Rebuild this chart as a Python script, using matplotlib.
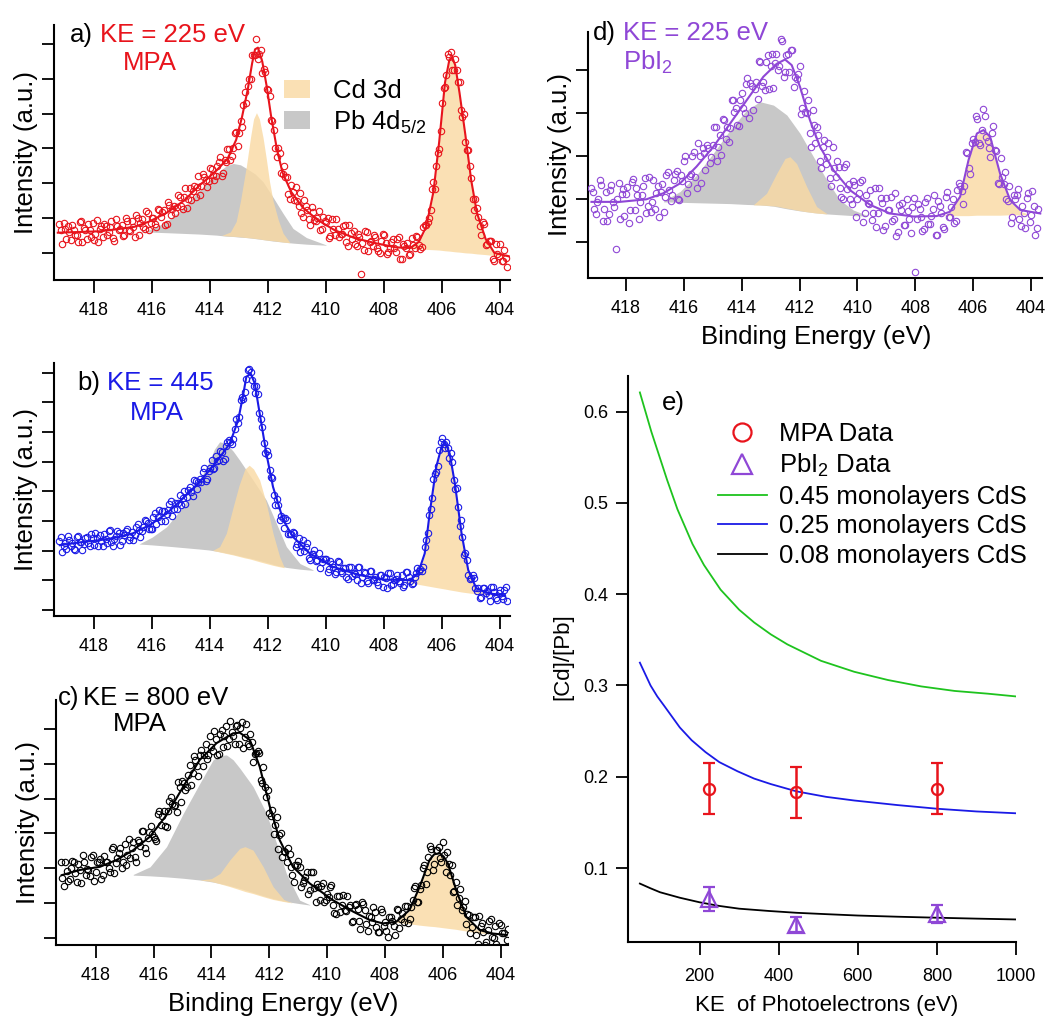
import numpy as np
import matplotlib
matplotlib.use('Agg')
import matplotlib.pyplot as plt
from matplotlib.patches import Patch
from matplotlib.lines import Line2D

plt.rcParams['font.family'] = ['Liberation Sans', 'DejaVu Sans']
plt.rcParams['mathtext.fontset'] = 'custom'
plt.rcParams['mathtext.rm'] = 'Liberation Sans'
plt.rcParams['mathtext.it'] = 'Liberation Sans:italic'

red = '#e8141c'
blue = '#1a1ae6'
purple = '#8f47d6'
green = '#1ec31e'
orange = '#f9daa4'
gray = '#c8c8c8'

# ---- raw XPS scans (intensity in units of the y tick spacing) ----
# two interleaved sweeps, 0.1 eV steps each, offset by 0.05 eV
be_scan = np.arange(419.2, 403.75, -0.1)
be_scan2 = be_scan - 0.05

scan_a = [0.83, 0.26, 0.68, 0.77, 0.38, 0.66, 0.50, 0.88, 0.32, 0.65,
          0.82, 0.47, 0.37, 0.94, 0.69, 0.45, 0.78, 0.61, 0.91, 0.35,
          0.78, 0.69, 0.49, 0.99, 0.65, 0.92, 0.47, 0.99, 0.85, 0.74,
          1.19, 0.65, 1.01, 0.84, 1.27, 1.02, 1.24, 0.83, 1.38, 1.26,
          1.14, 1.66, 1.34, 1.60, 1.30, 1.87, 1.78, 1.61, 2.22, 1.91,
          2.19, 1.88, 2.45, 2.23, 2.21, 2.61, 2.20, 2.67, 2.98, 2.67,
          3.00, 3.46, 3.45, 3.62, 4.62, 4.80, 4.99, 5.69, 6.15, 5.73,
          5.18, 5.19, 4.68, 3.81, 3.52, 2.75, 2.88, 2.26, 2.18, 1.69,
          1.96, 1.52, 1.50, 1.72, 1.02, 1.36, 0.96, 1.32, 0.94, 0.99,
          0.65, 1.03, 0.90, 0.43, 0.98, 0.51, 0.69, 0.54, 0.76, 0.31,
          0.81, 0.39, 0.25, 0.55, -0.62, 0.08, 0.59, 0.32, 0.20, 0.46,
          0.05, 0.34, 0.51, -0.04, 0.15, 0.39, 0.02, 0.47, -0.17, 0.21,
          0.28, -0.04, 0.22, 0.49, 0.22, 0.17, 0.80, 0.90, 1.23, 2.03,
          2.50, 2.99, 4.31, 4.76, 5.72, 5.78, 5.27, 5.27, 4.92, 3.90,
          3.19, 2.95, 2.14, 1.23, 1.29, 0.78, 0.88, 0.22, 0.35, 0.33,
          -0.22, -0.03, 0.25, -0.23, -0.14]
scan2_a = [0.65, 0.86, 0.41, 0.59, 0.80, 0.50, 0.32, 0.92, 0.71, 0.40,
           0.65, 0.87, 0.55, 0.30, 0.77, 0.82, 0.51, 0.73, 0.42, 0.96,
           0.65, 0.80, 0.50, 0.93, 0.63, 0.75, 1.09, 0.52, 0.97, 0.68,
           1.14, 0.85, 1.00, 0.75, 1.22, 1.18, 0.81, 1.46, 1.09, 1.36,
           1.31, 1.62, 1.26, 1.86, 1.55, 1.52, 1.92, 1.90, 1.66, 2.27,
           2.09, 2.07, 2.42, 2.10, 2.49, 2.76, 2.31, 2.61, 2.99, 2.79,
           3.45, 3.08, 3.80, 4.24, 4.32, 4.99, 5.68, 5.68, 5.57, 5.83,
           5.28, 4.71, 4.51, 3.80, 3.02, 3.01, 2.31, 2.51, 2.17, 1.55,
           1.76, 1.88, 1.35, 1.14, 1.51, 1.22, 0.79, 1.18, 0.91, 1.21,
           0.70, 0.93, 0.99, 0.48, 0.68, 0.96, 0.46, 0.53, 0.79, 0.19,
           0.58, 0.63, 0.21, 0.47, 0.27, 0.63, 0.05, 0.35, 0.50, 0.13,
           0.00, 0.55, 0.29, 0.02, 0.32, 0.13, 0.40, -0.17, 0.25, 0.14,
           -0.07, 0.44, 0.14, 0.46, 0.11, 0.75, 0.80, 1.00, 1.85, 1.83,
           2.87, 3.51, 4.75, 5.11, 5.64, 5.26, 5.56, 4.90, 4.12, 3.98,
           2.95, 2.50, 1.55, 1.56, 1.04, 0.52, 0.82, 0.26, 0.33, -0.18,
           0.25, -0.09, -0.22, 0.09, -0.42]

scan_b = [2.33, 1.95, 2.26, 2.49, 2.14, 2.06, 2.47, 2.30, 2.02, 2.42,
          2.25, 2.56, 2.18, 2.43, 2.53, 2.16, 2.38, 2.67, 2.29, 2.40,
          2.66, 2.20, 2.58, 2.67, 2.36, 2.63, 2.51, 2.89, 2.46, 2.78,
          2.98, 2.73, 2.71, 3.26, 3.12, 2.98, 3.32, 3.23, 3.56, 3.17,
          3.62, 3.62, 3.52, 4.02, 3.82, 4.13, 3.84, 4.36, 4.31, 4.31,
          4.78, 4.42, 4.80, 4.74, 5.18, 5.07, 5.34, 5.08, 5.65, 5.65,
          5.75, 6.44, 6.51, 7.19, 7.36, 8.08, 8.01, 7.57, 7.57, 6.64,
          6.17, 5.29, 5.21, 4.47, 3.88, 3.75, 3.03, 3.11, 3.09, 2.55,
          2.55, 2.60, 2.21, 1.96, 2.37, 2.11, 1.76, 1.89, 2.01, 1.67,
          1.40, 1.73, 1.71, 1.39, 1.53, 1.22, 1.63, 1.32, 1.41, 1.11,
          1.44, 1.14, 1.20, 1.45, 0.92, 1.26, 0.97, 1.31, 1.02, 1.09,
          0.84, 1.18, 1.11, 0.74, 1.24, 0.88, 1.05, 0.96, 1.17, 0.82,
          1.28, 0.96, 0.90, 1.24, 1.31, 1.31, 2.11, 2.60, 3.41, 4.40,
          4.65, 5.39, 5.79, 5.46, 5.47, 5.28, 4.38, 4.12, 2.83, 2.46,
          1.92, 1.19, 1.08, 1.06, 0.63, 0.41, 0.75, 0.57, 0.49, 0.78,
          0.61, 0.33, 0.68, 0.37, 0.76]
scan2_b = [2.46, 2.14, 2.06, 2.35, 2.27, 2.01, 2.48, 2.28, 2.21, 2.46,
           2.14, 2.42, 2.58, 2.14, 2.33, 2.56, 2.27, 2.68, 2.15, 2.50,
           2.58, 2.33, 2.54, 2.74, 2.47, 2.35, 2.78, 2.68, 2.67, 3.02,
           2.92, 2.71, 3.14, 2.91, 3.37, 3.32, 2.99, 3.37, 3.67, 3.40,
           3.40, 3.87, 3.77, 3.56, 4.05, 3.97, 4.37, 4.08, 4.43, 4.64,
           4.36, 4.69, 5.07, 4.80, 5.01, 5.37, 5.02, 5.52, 5.73, 5.60,
           6.11, 6.31, 7.09, 7.11, 7.78, 8.12, 7.75, 7.32, 7.27, 6.44,
           5.63, 5.37, 4.72, 4.46, 3.53, 3.54, 3.18, 2.77, 3.02, 2.57,
           2.64, 2.12, 2.43, 2.18, 1.97, 2.25, 1.69, 1.89, 1.65, 1.91,
           1.61, 1.71, 1.27, 1.64, 1.45, 1.26, 1.61, 1.25, 1.40, 1.04,
           1.43, 1.25, 1.01, 1.44, 1.09, 1.25, 0.90, 1.30, 1.04, 0.94,
           1.19, 0.76, 1.08, 1.25, 0.85, 1.00, 1.17, 0.90, 0.76, 1.28,
           1.11, 0.86, 1.12, 1.41, 1.36, 1.46, 2.37, 3.20, 3.76, 4.60,
           4.86, 5.67, 5.58, 5.68, 5.12, 4.98, 4.09, 3.48, 3.02, 1.86,
           1.69, 1.05, 1.16, 0.73, 0.72, 0.42, 0.74, 0.65, 0.28, 0.77,
           0.40, 0.57, 0.47, 0.67, 0.31]

scan_c = [2.18, 1.49, 1.93, 1.68, 2.21, 1.87, 2.12, 1.56, 2.19, 1.99,
          1.78, 2.37, 1.88, 2.17, 1.69, 2.35, 2.17, 1.89, 2.60, 2.14,
          2.45, 2.00, 2.69, 2.37, 2.29, 2.74, 2.18, 2.74, 3.08, 2.57,
          2.86, 3.20, 2.90, 2.79, 3.66, 3.51, 3.21, 3.65, 4.06, 3.79,
          3.62, 4.34, 4.52, 4.26, 4.67, 4.40, 5.22, 4.95, 5.26, 4.95,
          5.58, 5.26, 5.48, 5.95, 5.25, 5.85, 5.50, 6.09, 5.73, 5.91,
          5.57, 6.12, 6.04, 5.46, 6.16, 5.53, 5.64, 5.30, 5.37, 4.55,
          4.90, 4.06, 3.58, 3.68, 3.25, 2.56, 3.02, 2.50, 2.19, 2.40,
          1.79, 2.10, 2.22, 1.45, 1.65, 1.89, 1.38, 1.90, 1.04, 1.47,
          1.50, 1.04, 1.25, 1.46, 0.94, 0.67, 1.20, 0.93, 0.80, 1.21,
          0.94, 0.48, 0.98, 0.49, 1.03, 0.81, 0.19, 0.60, 0.88, 0.31,
          0.16, 0.74, 0.46, 0.01, 0.60, 0.35, 0.82, 0.28, 0.70, 0.90,
          0.41, 0.87, 1.43, 1.04, 1.40, 2.02, 1.55, 2.32, 2.54, 2.13,
          2.52, 2.29, 2.74, 1.89, 2.12, 2.09, 1.35, 0.93, 1.40, 0.87,
          0.38, 0.64, 0.30, 0.60, -0.17, 0.34, 0.17, -0.12, 0.49, 0.03,
          0.33, -0.26, 0.36, 0.13, -0.06]
scan2_c = [1.71, 2.19, 1.63, 2.02, 2.18, 1.61, 1.95, 2.37, 1.80, 1.95,
           2.33, 1.62, 2.17, 2.26, 1.80, 2.19, 2.00, 2.54, 1.86, 2.30,
           2.57, 2.17, 2.08, 2.85, 2.59, 2.33, 2.80, 2.64, 3.08, 2.43,
           3.04, 2.99, 2.83, 3.57, 3.23, 3.65, 3.18, 3.94, 3.86, 3.81,
           4.49, 3.91, 4.46, 4.33, 4.97, 4.74, 5.11, 4.66, 5.39, 5.27,
           5.14, 5.80, 5.38, 5.72, 5.28, 5.97, 5.80, 5.53, 6.24, 5.79,
           6.08, 5.58, 6.20, 5.78, 5.58, 5.85, 5.05, 5.32, 5.32, 4.44,
           4.33, 4.25, 3.51, 2.99, 3.46, 2.95, 2.33, 2.47, 2.58, 2.03,
           1.61, 2.09, 2.04, 1.56, 1.75, 1.27, 1.89, 1.42, 1.55, 1.08,
           1.56, 1.09, 1.17, 1.51, 0.70, 1.19, 0.74, 1.23, 0.78, 0.88,
           0.46, 0.95, 0.83, 0.25, 0.97, 0.39, 0.62, 0.45, 0.74, 0.17,
           0.83, 0.33, 0.19, 0.60, 0.48, 0.09, 0.80, 0.53, 0.46, 0.90,
           0.53, 1.09, 1.49, 1.02, 1.53, 2.10, 1.89, 2.65, 1.96, 2.51,
           2.61, 2.19, 2.37, 2.48, 1.81, 1.32, 1.61, 1.13, 0.80, 1.05,
           0.67, 0.14, 0.59, 0.08, 0.62, 0.41, -0.20, 0.23, 0.53, -0.02,
           -0.17, 0.42, 0.14, -0.32, 0.26]

scan_d = [1.27, 0.77, 0.94, 1.44, 0.50, 1.16, 0.66, 1.33, 0.83, 1.00,
          0.55, 1.23, 1.12, 0.46, 1.40, 0.75, 1.09, 0.93, 1.32, 0.67,
          1.52, 0.93, 0.78, 1.31, 1.17, 0.70, 1.57, 1.22, 1.09, 1.58,
          1.01, 1.56, 1.90, 1.14, 1.54, 2.00, 1.52, 2.30, 1.38, 2.07,
          2.26, 1.84, 2.26, 2.68, 2.21, 2.04, 2.85, 2.67, 2.65, 3.30,
          3.12, 2.71, 3.47, 3.01, 3.83, 3.70, 3.08, 3.72, 4.21, 3.63,
          3.55, 4.35, 4.09, 3.59, 4.37, 4.09, 4.67, 3.97, 4.39, 4.48,
          3.61, 3.80, 4.10, 3.13, 3.04, 3.31, 2.22, 2.72, 2.68, 1.90,
          2.21, 1.81, 2.31, 1.32, 1.72, 1.90, 1.26, 1.01, 1.82, 1.36,
          0.90, 1.34, 1.00, 1.41, 0.48, 1.11, 0.90, 0.53, 1.26, 0.67,
          1.03, 0.28, 1.03, 0.74, 0.49, 1.15, 0.25, 0.74, 0.40, 1.00,
          0.54, 0.82, -0.70, 0.88, 0.60, 0.32, 1.04, 0.43, 0.78, 0.17,
          0.95, 0.69, 0.32, 1.17, 0.60, 1.00, 0.49, 1.39, 1.19, 1.30,
          2.08, 1.58, 2.41, 2.94, 2.30, 2.61, 2.93, 2.36, 1.98, 2.70,
          2.12, 1.35, 1.51, 1.64, 0.97, 0.46, 1.09, 1.09, 0.55, 0.85,
          0.33, 1.14, 0.63, 0.85, 0.34]
scan2_d = [1.16, 0.66, 1.00, 1.33, 0.77, 0.50, 1.22, 0.94, -0.15, 1.38,
           1.12, 0.62, 1.29, 0.74, 1.47, 1.26, 0.55, 1.10, 1.50, 0.84,
           0.70, 1.44, 1.14, 0.60, 1.35, 1.05, 1.64, 0.96, 1.45, 1.65,
           0.98, 1.43, 2.00, 1.35, 1.58, 2.10, 1.27, 2.01, 2.20, 1.67,
           2.19, 1.99, 2.69, 1.90, 2.49, 2.86, 2.40, 2.33, 3.31, 3.02,
           2.72, 3.31, 3.13, 3.67, 2.88, 3.64, 3.57, 3.33, 4.20, 3.73,
           4.20, 3.56, 4.39, 4.18, 4.01, 4.72, 3.85, 4.35, 3.97, 4.47,
           3.84, 3.92, 2.98, 3.51, 3.01, 2.54, 3.08, 2.31, 2.49, 1.73,
           2.37, 1.99, 1.49, 2.21, 1.51, 1.75, 1.05, 1.75, 1.23, 1.00,
           1.43, 0.59, 1.15, 1.44, 0.68, 0.92, 1.21, 0.67, 0.36, 1.27,
           0.91, 0.38, 0.75, 1.06, 0.55, 0.15, 0.86, 0.91, 0.40, 0.72,
           0.21, 1.04, 0.54, 0.77, 0.27, 0.93, 0.43, 0.61, 1.11, 0.18,
           0.85, 0.36, 1.05, 0.58, 0.81, 0.44, 1.22, 1.30, 0.89, 2.10,
           1.72, 2.30, 2.34, 2.87, 2.27, 3.11, 2.46, 2.20, 2.53, 2.14,
           1.38, 1.96, 1.35, 1.00, 1.30, 0.59, 1.01, 1.23, 0.37, 0.67,
           1.04, 0.48, 1.19, 0.18, 0.78]

# ---- fitted envelopes ----
fit_a_be = [419.25, 418.5, 417.8, 417.2, 416.6, 416.1, 415.5, 414.9, 414.35, 413.8,
            413.4, 413.1, 412.9, 412.7, 412.55, 412.45, 412.35, 412.2, 412.05, 411.9,
            411.7, 411.5, 411.2, 410.8, 410.3, 409.7, 409.0, 408.3, 407.6, 407.1,
            406.8, 406.55, 406.3, 406.1, 405.9, 405.75, 405.65, 405.55, 405.4, 405.2,
            405.0, 404.8, 404.5, 404.2, 403.7]
fit_a = [0.58, 0.6, 0.62, 0.68, 0.75, 0.9, 1.15, 1.5, 1.95, 2.35,
         2.7, 3.25, 3.9, 4.7, 5.45, 5.85, 5.9, 5.5, 4.8, 3.95,
         3.0, 2.3, 1.75, 1.3, 0.95, 0.65, 0.42, 0.28, 0.16, 0.14,
         0.32, 0.75, 1.75, 3.2, 4.9, 5.55, 5.62, 5.4, 4.6, 3.4,
         2.1, 1.15, 0.4, 0.0, -0.1]

fit_b_be = [419.18, 418.38, 417.8, 417.23, 416.66, 416.08, 415.5, 414.93, 414.36, 413.78,
            413.32, 413.03, 412.85, 412.75, 412.6, 412.46, 412.29, 412.06, 411.83, 411.48,
            411.14, 410.56, 409.76, 408.84, 408.03, 407.1, 406.83, 406.6, 406.43, 406.2,
            406.02, 405.9, 405.74, 405.56, 405.33, 405.1, 404.82, 404.36, 403.84]
fit_b = [2.18, 2.29, 2.35, 2.44, 2.58, 2.86, 3.25, 3.76, 4.32, 4.99,
         5.61, 6.4, 7.3, 7.86, 7.98, 7.64, 6.63, 5.28, 4.15, 3.03,
         2.46, 1.9, 1.45, 1.17, 1.02, 1.0, 1.23, 1.9, 3.25, 4.83,
         5.5, 5.67, 5.28, 4.26, 2.58, 1.34, 0.72, 0.55, 0.49]

fit_c_be = [419.17, 418.54, 417.85, 417.27, 416.7, 416.12, 415.55, 414.97, 414.4, 413.82,
            413.25, 413.02, 412.67, 412.33, 411.98, 411.64, 411.18, 410.6, 409.8, 409.1,
            408.53, 408.07, 407.61, 407.15, 406.8, 406.46, 406.3, 406.11, 405.97, 405.83,
            405.54, 405.19, 404.73, 404.27, 403.81]
fit_c = [1.8, 1.95, 2.04, 2.24, 2.52, 2.91, 3.53, 4.35, 5.12, 5.6,
         5.88, 5.9, 5.69, 4.92, 3.77, 2.81, 2.04, 1.56, 1.08, 0.75,
         0.51, 0.41, 0.46, 0.8, 1.47, 2.24, 2.4, 2.43, 2.33, 2.14,
         1.37, 0.6, 0.22, 0.12, 0.08]

fit_d_be = [419.19, 418.21, 417.29, 416.71, 416.13, 415.56, 414.98, 414.4, 413.83, 413.25,
            412.79, 412.5, 412.27, 411.98, 411.64, 411.29, 410.83, 410.25, 409.56, 408.87,
            408.06, 407.26, 406.8, 406.45, 406.16, 405.87, 405.64, 405.41, 405.07, 404.72,
            404.37, 403.68]
fit_d = [0.94, 0.94, 1.0, 1.14, 1.37, 1.76, 2.22, 2.76, 3.3, 3.85,
         4.15, 4.25, 4.12, 3.61, 2.84, 2.22, 1.68, 1.21, 0.87, 0.67,
         0.6, 0.61, 0.71, 1.06, 1.91, 2.53, 2.61, 2.45, 1.6, 0.98,
         0.75, 0.67]

# ---- fitted components: Pb 4d5/2 (gray) and the two Cd 3d peaks (orange) ----
pb_a_be = [416.6, 416.2, 415.85, 415.5, 414.93, 414.36, 413.78, 413.44, 413.2, 412.95,
           412.75, 412.45, 412.17, 411.83, 411.48, 411.14, 410.68, 410.0]
pb_a_top = [0.6, 0.63, 0.75, 0.9, 1.28, 1.8, 2.28, 2.5, 2.57, 2.53,
            2.43, 2.27, 2.04, 1.6, 1.13, 0.7, 0.44, 0.23]
pb_a_bot = [0.6, 0.6, 0.59, 0.58, 0.56, 0.54, 0.51, 0.48, 0.47, 0.45,
            0.44, 0.41, 0.38, 0.34, 0.31, 0.28, 0.25, 0.22]
cd1_a_be = [413.6, 413.3, 413.1, 412.95, 412.75, 412.6, 412.5, 412.4, 412.3, 412.17,
            412.06, 411.95, 411.83, 411.65, 411.48, 411.25]
cd1_a_top = [0.5, 0.6, 0.9, 1.5, 2.48, 3.35, 3.85, 4.03, 3.85, 3.3,
             2.7, 2.05, 1.5, 0.95, 0.56, 0.3]
cd1_a_bot = [0.5, 0.48, 0.47, 0.46, 0.44, 0.43, 0.42, 0.41, 0.4, 0.38,
             0.37, 0.36, 0.35, 0.33, 0.31, 0.29]
cd2_a_be = [407.6, 407.1, 406.8, 406.55, 406.3, 406.1, 405.9, 405.75, 405.65, 405.55,
            405.4, 405.2, 405.0, 404.8, 404.5, 404.2, 403.7]
cd2_a_top = [0.16, 0.17, 0.3, 0.7, 1.7, 3.15, 4.85, 5.5, 5.58, 5.35,
             4.55, 3.35, 2.05, 1.1, 0.4, 0.05, -0.08]
cd2_a_bot = [0.14, 0.12, 0.11, 0.1, 0.09, 0.08, 0.06, 0.05, 0.04, 0.03,
             0.02, 0.0, -0.01, -0.03, -0.05, -0.08, -0.11]

pb_b_be = [416.45, 416.0, 415.5, 414.93, 414.36, 414.05, 413.85, 413.67, 413.45, 413.2,
           412.98, 412.52, 412.06, 411.71, 411.37, 410.9, 410.45]
pb_b_top = [2.22, 2.45, 2.8, 3.48, 4.38, 4.95, 5.42, 5.67, 5.62, 5.35,
            5.05, 4.38, 3.7, 2.91, 2.13, 1.56, 1.35]
pb_b_bot = [2.22, 2.19, 2.15, 2.1, 2.05, 2.02, 1.99, 1.96, 1.92, 1.87,
            1.82, 1.72, 1.6, 1.5, 1.43, 1.37, 1.33]
cd1_b_be = [413.9, 413.67, 413.44, 413.2, 413.0, 412.8, 412.65, 412.5, 412.29, 412.06,
            411.83, 411.6, 411.45]
cd1_b_top = [2.01, 2.13, 2.58, 3.48, 4.2, 4.75, 4.88, 4.75, 4.38, 3.59,
             2.58, 1.79, 1.45]
cd1_b_bot = [2.0, 1.95, 1.9, 1.85, 1.8, 1.75, 1.72, 1.68, 1.62, 1.56,
             1.5, 1.45, 1.42]
cd2_b_be = [407.3, 407.0, 406.83, 406.6, 406.43, 406.2, 406.02, 405.9, 405.74, 405.56,
            405.33, 405.1, 404.82, 404.36, 403.84]
cd2_b_top = [0.95, 0.98, 1.2, 1.85, 3.2, 4.78, 5.45, 5.62, 5.23, 4.2,
             2.55, 1.3, 0.68, 0.52, 0.48]
cd2_b_bot = [0.93, 0.9, 0.86, 0.82, 0.79, 0.75, 0.72, 0.7, 0.67, 0.64,
             0.6, 0.57, 0.53, 0.5, 0.47]

pb_c_be = [416.7, 416.12, 415.55, 414.97, 414.4, 413.94, 413.7, 413.48, 413.25, 413.02,
           412.56, 412.1, 411.75, 411.41, 410.95, 410.6]
pb_c_top = [1.82, 2.04, 2.62, 3.58, 4.44, 5.12, 5.24, 5.26, 5.12, 4.88,
            4.35, 3.58, 2.72, 1.85, 1.08, 0.95]
pb_c_bot = [1.8, 1.78, 1.75, 1.71, 1.66, 1.6, 1.56, 1.52, 1.47, 1.42,
            1.3, 1.18, 1.1, 1.04, 0.98, 0.94]
cd1_c_be = [414.4, 414.0, 413.7, 413.36, 413.02, 412.84, 412.56, 412.21, 411.87, 411.5, 411.2]
cd1_c_top = [1.66, 1.7, 1.85, 2.24, 2.57, 2.62, 2.52, 2.04, 1.47, 1.1, 1.0]
cd1_c_bot = [1.66, 1.62, 1.55, 1.47, 1.38, 1.33, 1.27, 1.18, 1.1, 1.04, 1.0]
cd2_c_be = [407.6, 407.15, 406.8, 406.46, 406.3, 406.11, 405.83, 405.54, 405.19, 404.8, 404.5]
cd2_c_top = [0.46, 0.78, 1.45, 2.2, 2.37, 2.4, 2.1, 1.35, 0.58, 0.22, 0.15]
cd2_c_bot = [0.44, 0.4, 0.36, 0.33, 0.32, 0.3, 0.27, 0.24, 0.19, 0.14, 0.12]

pb_d_be = [416.7, 416.13, 415.56, 414.98, 414.4, 413.83, 413.37, 412.9, 412.44, 411.98,
           411.52, 411.06, 410.6, 410.14, 409.68]
pb_d_top = [0.96, 1.18, 1.56, 2.07, 2.61, 3.07, 3.27, 3.19, 2.96, 2.53,
            1.99, 1.45, 0.98, 0.75, 0.63]
pb_d_bot = [0.94, 0.93, 0.92, 0.91, 0.9, 0.88, 0.87, 0.84, 0.78, 0.73,
            0.69, 0.66, 0.64, 0.62, 0.61]
cd1_d_be = [413.6, 413.14, 412.79, 412.5, 412.33, 412.1, 411.75, 411.41, 411.06]
cd1_d_top = [0.87, 1.14, 1.6, 1.95, 1.99, 1.83, 1.29, 0.83, 0.67]
cd1_d_bot = [0.87, 0.86, 0.84, 0.8, 0.78, 0.75, 0.71, 0.68, 0.66]
cd2_d_be = [407.0, 406.8, 406.45, 406.16, 405.87, 405.64, 405.41, 405.07, 404.72, 404.37, 404.1]
cd2_d_top = [0.63, 0.7, 1.05, 1.9, 2.5, 2.58, 2.42, 1.58, 0.95, 0.72, 0.66]
cd2_d_bot = [0.62, 0.62, 0.62, 0.62, 0.63, 0.63, 0.63, 0.63, 0.64, 0.64, 0.64]

# ---- panel e: [Cd]/[Pb] vs kinetic energy ----
ke_045 = [49, 78, 118, 144, 182, 211, 253, 300, 338, 380, 422, 507, 591, 676, 760, 845, 929, 1000]
model_045 = [0.621, 0.578, 0.525, 0.493, 0.455, 0.432, 0.405, 0.383, 0.369, 0.356,
             0.345, 0.327, 0.315, 0.306, 0.299, 0.294, 0.291, 0.288]
ke_025 = [49, 76, 93, 110, 150, 180, 215, 250, 296, 338, 380, 445, 520, 591, 700, 800, 900, 1000]
model_025 = [0.325, 0.300, 0.288, 0.278, 0.254, 0.240, 0.227, 0.216, 0.206, 0.198,
             0.192, 0.184, 0.178, 0.174, 0.169, 0.165, 0.162, 0.160]
ke_008 = [49, 75, 100, 150, 200, 250, 300, 375, 445, 520, 600, 700, 800, 900, 1000]
model_008 = [0.083, 0.078, 0.0735, 0.0675, 0.0625, 0.0585, 0.0555, 0.053, 0.051, 0.0495,
             0.048, 0.0467, 0.0456, 0.0446, 0.0437]
ke_data = [225, 445, 800]
mpa_ratio = [0.187, 0.183, 0.187]
mpa_err = [0.028, 0.028, 0.028]
pbi2_ratio = [0.066, 0.038, 0.050]
pbi2_err = [0.013, 0.008, 0.010]

W, H = 1045, 1016
fig = plt.figure(figsize=(W / 100, H / 100), dpi=100)


def box(left, top, right, bottom):
    return [left / W, 1 - bottom / H, (right - left) / W, (bottom - top) / H]


def fxy(x, y):
    return x / W, 1 - y / H


def style(ax, labelsize=13, pad=6.5):
    for s in ['top', 'right']:
        ax.spines[s].set_visible(False)
    for s in ['left', 'bottom']:
        ax.spines[s].set_linewidth(1.5)
    ax.tick_params(direction='out', length=9, width=1.3, labelsize=labelsize, pad=pad)


def spectrum(ax, scans, color, fit_be, fit, comps, xlim, ylim, nticks):
    pb, cd1, cd2 = comps
    ax.fill_between(pb[0], pb[2], pb[1], color=gray, lw=0, zorder=1)
    for be, top, bot in (cd1, cd2):
        ax.fill_between(be, bot, top, color=orange, alpha=0.82, lw=0, zorder=2)
    for be, vals in scans:
        ax.plot(be, vals, 'o', ms=4.6, mfc='none', mec=color, mew=0.8, zorder=3)
    ax.plot(fit_be, fit, '-', color=color, lw=1.5, zorder=4)
    ax.set_xlim(*xlim)
    ax.set_ylim(*ylim)
    ax.set_xticks([418, 416, 414, 412, 410, 408, 406, 404])
    ax.set_yticks(range(nticks))
    ax.tick_params(axis='y', labelleft=False)
    style(ax)
    ax.set_ylabel('Intensity (a.u.)', fontsize=18.5)
    ax.yaxis.set_label_coords(-0.036, 0.5)


ax_a = fig.add_axes(box(54, 25, 510, 280))
spectrum(ax_a, [(be_scan, scan_a), (be_scan2, scan2_a)], red, fit_a_be, fit_a,
         [(pb_a_be, pb_a_top, pb_a_bot), (cd1_a_be, cd1_a_top, cd1_a_bot), (cd2_a_be, cd2_a_top, cd2_a_bot)],
         (419.38, 403.66), (-0.78, 6.55), 7)
ax_b = fig.add_axes(box(54, 363, 510, 616))
spectrum(ax_b, [(be_scan, scan_b), (be_scan2, scan2_b)], blue, fit_b_be, fit_b,
         [(pb_b_be, pb_b_top, pb_b_bot), (cd1_b_be, cd1_b_top, cd1_b_bot), (cd2_b_be, cd2_b_top, cd2_b_bot)],
         (419.38, 403.66), (-0.21, 8.33), 9)
ax_c = fig.add_axes(box(56, 700, 508, 945))
spectrum(ax_c, [(be_scan, scan_c), (be_scan2, scan2_c)], 'black', fit_c_be, fit_c,
         [(pb_c_be, pb_c_top, pb_c_bot), (cd1_c_be, cd1_c_top, cd1_c_bot), (cd2_c_be, cd2_c_top, cd2_c_bot)],
         (419.37, 403.75), (-0.21, 6.84), 7)
ax_d = fig.add_axes(box(588, 32, 1042, 278))
spectrum(ax_d, [(be_scan, scan_d), (be_scan2, scan2_d)], purple, fit_d_be, fit_d,
         [(pb_d_be, pb_d_top, pb_d_bot), (cd1_d_be, cd1_d_top, cd1_d_bot), (cd2_d_be, cd2_d_top, cd2_d_bot)],
         (419.31, 403.62), (-0.83, 4.89), 5)

for ax in (ax_c, ax_d):
    ax.set_xlabel('Binding Energy (eV)', fontsize=18.5)
    ax.xaxis.set_label_coords(0.503, -0.19)

ax_a.legend(handles=[Patch(fc=orange, alpha=0.82, lw=0), Patch(fc=gray, lw=0)],
            labels=['Cd 3d', 'Pb 4d$_{5/2}$'], frameon=False, fontsize=18.5,
            loc='upper left', bbox_to_anchor=fxy(284, 79), bbox_transform=fig.transFigure,
            handlelength=1.0, handleheight=0.7, handletextpad=0.9, labelspacing=0.21,
            borderpad=0, borderaxespad=0)

fs = 18.5
fig.text(*fxy(70, 42), 'a)', fontsize=fs, color='black')
fig.text(*fxy(100, 42), 'KE = 225 eV', fontsize=fs, color=red)
fig.text(*fxy(150, 70), 'MPA', fontsize=fs, color=red, ha='center')
fig.text(*fxy(77, 390), 'b)', fontsize=fs, color='black')
fig.text(*fxy(107, 390), 'KE = 445', fontsize=fs, color=blue)
fig.text(*fxy(157, 420), 'MPA', fontsize=fs, color=blue, ha='center')
fig.text(*fxy(58, 705), 'c)', fontsize=fs, color='black')
fig.text(*fxy(83, 705), 'KE = 800 eV', fontsize=fs, color='black')
fig.text(*fxy(140, 731), 'MPA', fontsize=fs, color='black', ha='center')
fig.text(*fxy(593, 40), 'd)', fontsize=fs, color='black')
fig.text(*fxy(623, 40), 'KE = 225 eV', fontsize=fs, color=purple)
fig.text(*fxy(623, 70), 'PbI$_2$', fontsize=fs, color=purple)

# ---- panel e ----
ax_e = fig.add_axes(box(628, 376, 1016, 942))
ax_e.plot(ke_045, model_045, color=green, lw=1.3)
ax_e.plot(ke_025, model_025, color=blue, lw=1.3)
ax_e.plot(ke_008, model_008, color='black', lw=1.3)
ax_e.errorbar(ke_data, mpa_ratio, yerr=mpa_err, fmt='o', ms=8, mfc='none', mec=red,
              mew=1.6, ecolor=red, elinewidth=1.8, capsize=4, capthick=1.8, zorder=5)
ax_e.errorbar(ke_data, pbi2_ratio, yerr=pbi2_err, fmt='^', ms=12, mfc='none', mec=purple,
              mew=1.6, ecolor=purple, elinewidth=1.8, capsize=4, capthick=1.8, zorder=5)
ax_e.set_xlim(19, 1000)
ax_e.set_ylim(0.019, 0.639)
ax_e.set_xticks([200, 400, 600, 800, 1000])
ax_e.set_yticks([0.1, 0.2, 0.3, 0.4, 0.5, 0.6])
style(ax_e, labelsize=13)
ax_e.tick_params(axis='x', pad=9.5)
ax_e.tick_params(axis='y', pad=5)
ax_e.set_xlabel('KE  of Photoelectrons (eV)', fontsize=16)
ax_e.xaxis.set_label_coords(0.512, -0.094)
ax_e.set_ylabel('[Cd]/[Pb]', fontsize=16)
ax_e.yaxis.set_label_coords(-0.142, 0.505)
fig.text(*fxy(662, 410), 'e)', fontsize=fs, color='black')

handles = [Line2D([], [], ls='none', marker='o', ms=13, mfc='none', mec=red, mew=1.6),
           Line2D([], [], ls='none', marker='^', ms=15, mfc='none', mec=purple, mew=1.6),
           Line2D([], [], color=green, lw=1.3),
           Line2D([], [], color=blue, lw=1.3),
           Line2D([], [], color='black', lw=1.3)]
labels = ['MPA Data', 'PbI$_2$ Data', '0.45 monolayers CdS',
          '0.25 monolayers CdS', '0.08 monolayers CdS']
ax_e.legend(handles, labels, frameon=False, fontsize=fs, loc='upper left',
            bbox_to_anchor=fxy(718, 422), bbox_transform=fig.transFigure,
            handlelength=1.9, handletextpad=0.47, labelspacing=0.22,
            borderpad=0, borderaxespad=0)

fig.savefig('out.png', dpi=100)
